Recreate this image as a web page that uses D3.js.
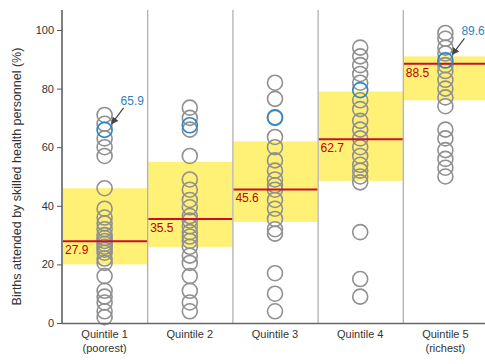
<!DOCTYPE html>
<html>
<head>
<meta charset="utf-8">
<script src="https://cdn.jsdelivr.net/npm/d3@7"></script>
<style>
  body { margin: 0; background: #fff; }
  text { font-family: "Liberation Sans Narrow", "Arial Narrow", "Liberation Sans", sans-serif; }
</style>
</head>
<body>
<script>
let quintiles = ['Quintile 1', 'Quintile 2', 'Quintile 3', 'Quintile 4', 'Quintile 5'];
let subLabels = ['(poorest)', '', '', '', '(richest)'];

// country values per quintile (gray circles)
let q1 = [71, 68, 63, 60, 57, 46, 39, 36, 34, 32, 30, 29, 28, 27, 26, 25, 24, 22, 20.5, 16, 11, 9, 7, 4, 2];
let q2 = [73.5, 70, 66, 57, 49, 45.5, 42, 39.5, 36.5, 35, 33, 31, 29.5, 28, 26, 23, 20.5, 16, 11, 7, 4];
let q3 = [82, 76.5, 70, 63.5, 60, 55.5, 52, 49, 47, 45.5, 42, 39, 35.5, 32, 30.5, 17, 10, 4];
let q4 = [94, 91, 88, 85, 82, 76, 73, 69, 66, 63, 60, 57, 54, 52, 50, 48, 31, 15, 9];
let q5 = [99, 97, 94, 92, 88, 86, 83, 80, 77, 74, 66, 63, 59, 56, 53, 50];
let values = [q1, q2, q3, q4, q5];

// highlighted country (blue circles)
let highlight = [65.9, 67.5, 70.2, 79.5, 89.6];
let highlightLabel = [true, false, false, false, true];

let medians = [27.9, 35.5, 45.6, 62.7, 88.5];
let bandLow = [20, 26, 34.5, 48.5, 76];
let bandHigh = [46, 55, 62, 79, 91];
let yTicks = [0, 20, 40, 60, 80, 100];

let margin = { top: 10, right: 0, bottom: 41, left: 62 };
let W = 485, H = 364;

let svg = d3.select('body').append('svg')
    .attr('width', W)
    .attr('height', H);

let x = d3.scaleBand().domain(quintiles).range([margin.left, 488]).paddingInner(0);
let y = d3.scaleLinear().domain([0, 100]).range([H - margin.bottom, 30]);
let bottom = y(0);

let cols = svg.selectAll('.col')
  .data(quintiles)
  .enter().append('g')
    .attr('class', 'col');

// yellow band
cols.append('rect')
    .attr('x', function(d){ return x(d) + 1; })
    .attr('width', x.bandwidth() - 1)
    .attr('y', function(d, i){ return y(bandHigh[i]); })
    .attr('height', function(d, i){ return y(bandLow[i]) - y(bandHigh[i]); })
    .attr('fill', '#fff176');

// column dividers
svg.selectAll('.divider')
  .data(quintiles.slice(1))
  .enter().append('line')
    .attr('class', 'divider')
    .attr('x1', function(d){ return x(d) + 0.5; })
    .attr('x2', function(d){ return x(d) + 0.5; })
    .attr('y1', margin.top)
    .attr('y2', bottom)
    .attr('stroke', '#ababab')
    .attr('stroke-width', 1.2);

// gray circles
cols.each(function(d, i){
  let cx = x(d) + x.bandwidth() / 2;
  d3.select(this).selectAll('circle.pt')
    .data(values[i])
    .enter().append('circle')
      .attr('class', 'pt')
      .attr('cx', cx)
      .attr('cy', function(v){ return y(v); })
      .attr('r', 7.5)
      .attr('fill', 'none')
      .attr('stroke', '#909090')
      .attr('stroke-width', 1.6);
});

// median lines
cols.append('line')
    .attr('x1', function(d){ return x(d) + 1; })
    .attr('x2', function(d){ return x(d) + x.bandwidth(); })
    .attr('y1', function(d, i){ return y(medians[i]); })
    .attr('y2', function(d, i){ return y(medians[i]); })
    .attr('stroke', '#c8102e')
    .attr('stroke-width', 2);

cols.append('text')
    .attr('x', function(d){ return x(d) + 3; })
    .attr('y', function(d, i){ return y(medians[i]) + 13; })
    .attr('fill', '#c00000')
    .style('font-size', '12px')
    .text(function(d, i){ return medians[i].toFixed(1); });

// blue circles
cols.append('circle')
    .attr('cx', function(d){ return x(d) + x.bandwidth() / 2; })
    .attr('cy', function(d, i){ return y(highlight[i]); })
    .attr('r', 7.5)
    .attr('fill', 'none')
    .attr('stroke', '#2f86c8')
    .attr('stroke-width', 1.7);

// callouts for the highlighted country
svg.append('defs').append('marker')
    .attr('id', 'arr')
    .attr('viewBox', '0 0 10 10')
    .attr('refX', 9).attr('refY', 5)
    .attr('markerWidth', 6).attr('markerHeight', 6)
    .attr('orient', 'auto')
  .append('path')
    .attr('d', 'M0,0L10,5L0,10z')
    .attr('fill', '#444');

cols.filter(function(d, i){ return highlightLabel[i]; }).each(function(d){
  let i = quintiles.indexOf(d);
  let cx = x(d) + x.bandwidth() / 2;
  let cy = y(highlight[i]);
  let g = d3.select(this);
  g.append('line')
      .attr('x1', cx + 19).attr('y1', cy - 22)
      .attr('x2', cx + 7).attr('y2', cy - 6)
      .attr('stroke', '#444')
      .attr('stroke-width', 1.2)
      .attr('marker-end', 'url(#arr)');
  g.append('text')
      .attr('x', cx + 16)
      .attr('y', cy - 25)
      .attr('fill', '#2f7fc0')
      .style('font-size', '12px')
      .text(highlight[i]);
});

// y axis
let yAxis = d3.axisLeft(y).tickValues(yTicks).tickSize(5).tickPadding(3);
let ya = svg.append('g')
    .attr('transform', 'translate(' + margin.left + ',0)')
    .call(yAxis);
ya.select('.domain').remove();
ya.selectAll('line').attr('stroke', '#555');
ya.selectAll('text').style('font-size', '11px').attr('fill', '#333');
svg.append('line')
    .attr('x1', margin.left).attr('x2', margin.left)
    .attr('y1', margin.top).attr('y2', bottom)
    .attr('stroke', '#555').attr('stroke-width', 1.5);

// bottom axis
svg.append('line')
    .attr('x1', margin.left).attr('x2', W)
    .attr('y1', bottom + 0.5).attr('y2', bottom + 0.5)
    .attr('stroke', '#666').attr('stroke-width', 1.5);

cols.append('text')
    .attr('x', function(d){ return x(d) + x.bandwidth() / 2; })
    .attr('y', bottom + 15)
    .attr('text-anchor', 'middle')
    .attr('fill', '#333')
    .style('font-size', '11px')
    .text(function(d){ return d; });

cols.append('text')
    .attr('x', function(d){ return x(d) + x.bandwidth() / 2; })
    .attr('y', bottom + 29)
    .attr('text-anchor', 'middle')
    .attr('fill', '#333')
    .style('font-size', '11px')
    .text(function(d, i){ return subLabels[i]; });

svg.append('text')
    .attr('transform', 'translate(21,' + (y(50)) + ') rotate(-90)')
    .attr('text-anchor', 'middle')
    .attr('fill', '#333')
    .style('font-size', '12.5px')
    .text('Births attended by skilled health personnel (%)');
</script>
</body>
</html>
